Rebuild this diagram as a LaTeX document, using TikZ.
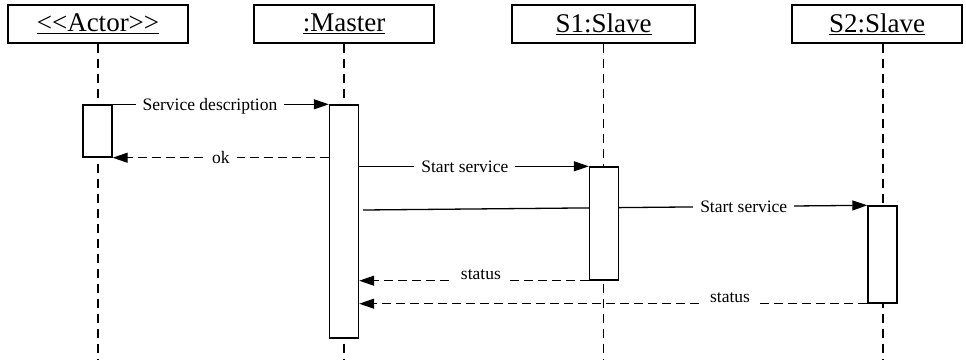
\documentclass[tikz,border=0pt]{standalone}
\usepackage{fontspec}
\setmainfont{Liberation Serif}
\usetikzlibrary{arrows.meta}

\begin{document}
\begin{tikzpicture}[x=1pt,y=-1pt,
  objbox/.style={draw,line width=1.4pt,minimum height=38pt,inner sep=0pt,
    font=\fontsize{27}{31}\selectfont},
  lifeline/.style={line width=1.3pt,dash pattern=on 9pt off 6pt},
  actbox/.style={draw,fill=white,line width=1.4pt,minimum width=29pt,inner sep=0pt},
  call/.style={line width=1.3pt,-{Triangle[length=15pt,width=10pt]}},
  reply/.style={call,dash pattern=on 9pt off 5pt},
  msglabel/.style={fill=white,inner xsep=7pt,inner ysep=0pt,minimum height=14pt,text depth=0pt,
    font=\fontsize{17.5}{20}\selectfont}]
  \useasboundingbox (0,0) rectangle (966,360);

  % object headers
  \node[objbox,minimum width=180pt] (actor) at (98,24)   {\underline{<\kern0pt<Actor>\kern0pt>}};
  \node[objbox,minimum width=180pt] (master) at (344,24) {\underline{:Master}};
  \node[objbox,minimum width=183pt] (slave1) at (603.5,24) {\underline{S1:Slave}};
  \node[objbox,minimum width=170pt] (slave2) at (877,24)  {\underline{S2:Slave}};

  % lifeline ends
  \coordinate (actorEnd)  at (98,360);
  \coordinate (masterEnd) at (344,360);
  \coordinate (slave1End) at (603.5,360);
  \coordinate (slave2End) at (883,360);

  \draw[lifeline] (actor.south) -- (actorEnd);
  \draw[lifeline] (master.south) -- (masterEnd);
  \draw[lifeline] (slave1.south) -- (slave1End);
  \draw[lifeline] (slave2.south -| slave2End) -- (slave2End);

  % forwarded request runs behind the S1 activation
  \coordinate (fwdStart) at (363,210);
  \node[actbox,minimum height=97pt] (actS2) at (882.5,254.5) {};
  \draw[call] (fwdStart) -- node[msglabel,pos=0.755] {Start service} (actS2.north west);

  % activations
  \node[actbox,minimum height=52pt]  (actA)  at (97.5,131) {};
  \node[actbox,minimum height=233pt] (actM)  at (344,221.5) {};
  \node[actbox,minimum height=113pt] (actS1) at (604,223.5) {};

  % messages
  \draw[call] (actA.north east) -- node[msglabel,pos=0.45] {Service description} (actA.north east -| actM.west);
  \draw[reply] (actA.south east -| actM.west) -- node[msglabel,pos=0.5] {ok} (actA.south east);
  \draw[call] (actS1.north west -| actM.east) -- node[msglabel,pos=0.46] {Start service} (actS1.north west);
  \draw[reply] (actS1.south west) -- node[msglabel,pos=0.47,yshift=6pt] {status} (actS1.south west -| actM.east);
  \draw[reply] (actS2.south west) -- node[msglabel,pos=0.27,yshift=6pt] {status} (actS2.south west -| actM.east);
\end{tikzpicture}
\end{document}
